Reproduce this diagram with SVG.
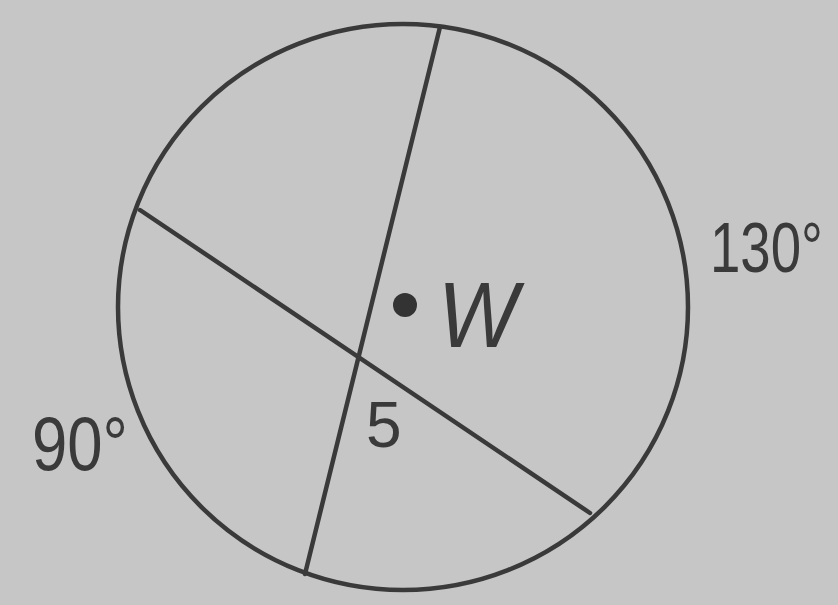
<svg xmlns="http://www.w3.org/2000/svg" width="838" height="605" viewBox="0 0 838 605">
<style>
.ln{fill:none;stroke:#3a3a3a;stroke-width:4.5;stroke-linecap:round}
.t{font-family:"Liberation Sans",Arial,sans-serif;fill:#3a3a3a}
</style>
<rect width="838" height="605" fill="#c6c6c6"/>
<g id="circle"><ellipse class="ln" cx="403" cy="307" rx="285" ry="283"/></g>
<g id="connectors">
<line class="ln" x1="140" y1="210" x2="590" y2="513"/>
<line class="ln" x1="440" y1="27" x2="305" y2="574"/>
</g>
<g id="center"><circle cx="405" cy="305" r="12" fill="#333"/><text class="t" x="438" y="347" font-size="92" font-style="italic" textLength="80" lengthAdjust="spacingAndGlyphs">W</text></g>
<g id="label5"><text class="t" x="366" y="447" font-size="64">5</text></g>
<g id="label90"><text class="t" x="32" y="470" font-size="76" textLength="96" lengthAdjust="spacingAndGlyphs">90°</text></g>
<g id="label130"><text class="t" transform="translate(710,272) scale(0.78,1)" font-size="70">130°</text></g>
</svg>
